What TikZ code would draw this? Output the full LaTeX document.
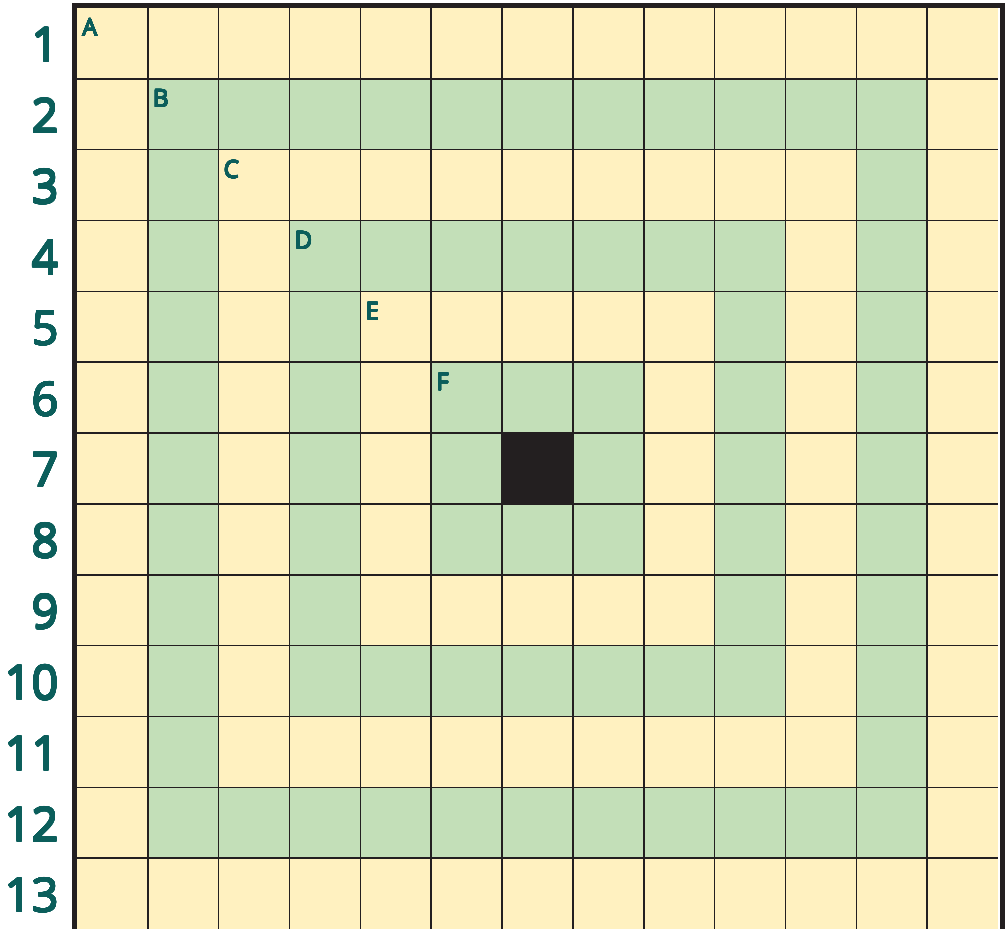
\documentclass[tikz,border=0pt]{standalone}
\usepackage{fontspec}
\setmainfont{Open Sans}
\usepackage[copies]{contour}
\contournumber{32}
\newcommand{\numtxt}[1]{\contourlength{0.9pt}\contour{tealc}{#1}}
\newcommand{\lettxt}[1]{\contourlength{0.45pt}\contour{tealc}{#1}}
\begin{document}
\begin{tikzpicture}[x=1pt,y=1pt,
  gridline/.style={draw=blackc,line width=1.5pt},
  frame/.style={draw=blackc,line width=5pt},
  rowlabel/.style={anchor=east,text=tealc,font=\fontsize{47}{47}\selectfont,inner sep=0pt},
  celllabel/.style={anchor=north west,text=tealc,font=\fontsize{24}{24}\selectfont,inner sep=0pt}]
\definecolor{creamc}{HTML}{FFF1C0}
\definecolor{greenc}{HTML}{C3DFB8}
\definecolor{blackc}{HTML}{231F20}
\definecolor{tealc}{HTML}{0B5E5B}
\useasboundingbox (0,0) rectangle (1005,-929);
\def\cw{70.846}
\def\xo{77}
\def\yo{-8}
% background
\fill[creamc] (\xo,\yo) rectangle (998,-929);
% green cells
\foreach \r/\c in {
 2/2,2/3,2/4,2/5,2/6,2/7,2/8,2/9,2/10,2/11,2/12,
 12/2,12/3,12/4,12/5,12/6,12/7,12/8,12/9,12/10,12/11,12/12,
 3/2,4/2,5/2,6/2,7/2,8/2,9/2,10/2,11/2,
 3/12,4/12,5/12,6/12,7/12,8/12,9/12,10/12,11/12,
 4/4,4/5,4/6,4/7,4/8,4/9,4/10,
 10/4,10/5,10/6,10/7,10/8,10/9,10/10,
 5/4,6/4,7/4,8/4,9/4,
 5/10,6/10,7/10,8/10,9/10,
 6/6,6/7,6/8,8/6,8/7,8/8,7/6,7/8}{
  \fill[greenc] ({\xo+(\c-1)*\cw},{\yo-(\r-1)*\cw}) rectangle ++(\cw,-\cw);
}
\fill[blackc] ({\xo+6*\cw},{\yo-6*\cw}) rectangle ++(\cw,-\cw);
% grid lines
\foreach \i in {1,...,12}{
  \draw[gridline] ({\xo+\i*\cw},\yo) -- ({\xo+\i*\cw},-929);
  \draw[gridline] (\xo,{\yo-\i*\cw}) -- (998,{\yo-\i*\cw});
}
% frame
\draw[frame] (74.5,-929) -- (74.5,-5.5) -- (1002.5,-5.5) -- (1002.5,-929);
% row labels
\foreach \r in {1,...,13}{
  \node[rowlabel] (row\r) at (59,{\yo-(\r-0.5)*\cw-2}) {\numtxt{\r}};
}
% cell labels
\foreach \k/\L in {1/A,2/B,3/C,4/D,5/E,6/F}{
  \node[celllabel] (lab\L) at ({\xo+(\k-1)*\cw+5},{\yo-(\k-1)*\cw-11}) {\lettxt{\L}};
}
\end{tikzpicture}
\end{document}
